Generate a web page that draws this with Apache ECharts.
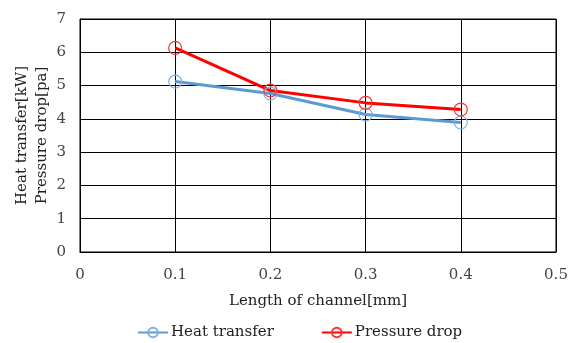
<!DOCTYPE html>
<html>
<head>
<meta charset="utf-8">
<script src="https://cdn.jsdelivr.net/npm/echarts@6/dist/echarts.min.js"></script>
<style>
html,body{margin:0;padding:0;background:#fff;}
#chart{width:569px;height:343px;}
</style>
</head>
<body>
<div id="chart"></div>
<script>
// Channel length (mm) and measured results
const channelLength = [0.1, 0.2, 0.3, 0.4];
const heatTransfer = [5.12, 4.76, 4.13, 3.89];
const pressureDrop = [6.13, 4.85, 4.48, 4.28];
const xTicks = [0, 0.1, 0.2, 0.3, 0.4, 0.5];
const yTicks = [0, 1, 2, 3, 4, 5, 6, 7];

const FONT = '"DejaVu Serif", serif';
const chart = echarts.init(document.getElementById('chart'));

function pairs(xs, ys) { return xs.map((x, i) => [x, ys[i]]); }

chart.setOption({
  animation: false,
  textStyle: { fontFamily: FONT },
  grid: { left: 80, right: 13, top: 19, bottom: 91, show: true, borderColor: '#000', borderWidth: 1,
    containLabel: false, outerBoundsMode: 'none' },
  xAxis: {
    type: 'value', min: xTicks[0], max: xTicks[xTicks.length - 1], interval: 0.1,
    name: 'Length of channel[mm]', nameLocation: 'middle', nameGap: 42,
    nameTextStyle: { fontFamily: FONT, fontSize: 15, color: '#222' },
    axisLine: { show: true, lineStyle: { color: '#000', width: 1 } },
    axisTick: { show: false },
    splitLine: { show: true, lineStyle: { color: '#000', width: 1 } },
    axisLabel: { fontFamily: FONT, fontSize: 15, color: '#444', margin: 16,
      formatter: v => String(Math.round(v * 10) / 10) }
  },
  yAxis: {
    type: 'value', min: yTicks[0], max: yTicks[yTicks.length - 1], interval: 1,
    name: 'Heat transfer[kW]\nPressure drop[pa]', nameLocation: 'middle', nameGap: 28,
    nameRotate: 90, nameMoveOverlap: false,
    nameTextStyle: { fontFamily: FONT, fontSize: 15, color: '#222', lineHeight: 20 },
    axisLine: { show: true, lineStyle: { color: '#000', width: 1 } },
    axisTick: { show: false },
    splitLine: { show: true, lineStyle: { color: '#000', width: 1 } },
    axisLabel: { fontFamily: FONT, fontSize: 15, color: '#444', margin: 14 }
  },
  legend: {
    top: 325, left: 137, itemGap: 47, itemWidth: 30, itemHeight: 12, padding: 0,
    textStyle: { fontFamily: FONT, fontSize: 15, color: '#222', padding: [0, 0, 0, -2] },
    data: ['Heat transfer', 'Pressure drop']
  },
  series: [
    {
      name: 'Heat transfer', type: 'line', data: pairs(channelLength, heatTransfer),
      symbol: 'circle', symbolSize: 13,
      lineStyle: { color: '#5B9BD5', width: 3 },
      itemStyle: { color: 'rgba(0,0,0,0)', borderColor: '#7FB1E0', borderWidth: 1.2 }
    },
    {
      name: 'Pressure drop', type: 'line', data: pairs(channelLength, pressureDrop),
      symbol: 'circle', symbolSize: 13,
      lineStyle: { color: '#FF0000', width: 3 },
      itemStyle: { color: 'rgba(0,0,0,0)', borderColor: '#FF3030', borderWidth: 1.2 }
    }
  ]
});
</script>
</body>
</html>
